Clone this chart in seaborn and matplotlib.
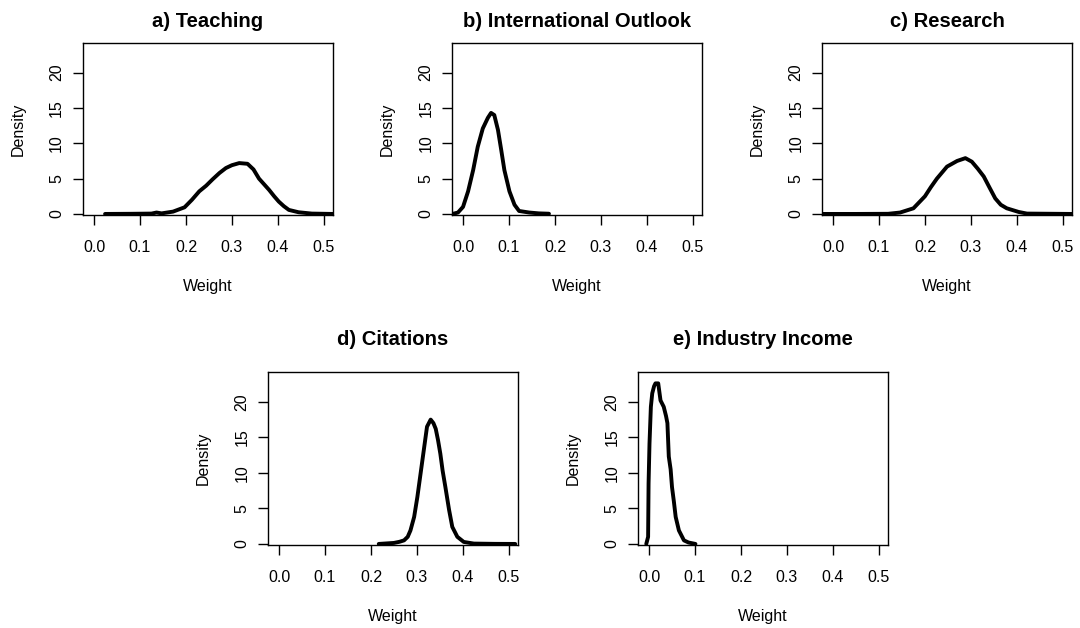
import numpy as np
import pandas as pd
import matplotlib
matplotlib.use("Agg")
import matplotlib.pyplot as plt
import seaborn as sns

sns.set_style("ticks")
plt.rcParams["font.family"] = ["Liberation Sans", "DejaVu Sans"]

titles = ["a) Teaching", "b) International Outlook", "c) Research",
          "d) Citations", "e) Industry Income"]
x_ticks = [0.0, 0.1, 0.2, 0.3, 0.4, 0.5]
x_tick_labels = ["0.0", "0.1", "0.2", "0.3", "0.4", "0.5"]
y_ticks = [0, 5, 10, 15, 20]
y_tick_labels = ["0", "5", "10", "15", "20"]

teaching_x = [0.024, 0.08, 0.125, 0.136, 0.147, 0.172, 0.197, 0.213, 0.229, 0.244, 0.258,
              0.273, 0.287, 0.30, 0.316, 0.334, 0.347, 0.359, 0.37, 0.381, 0.392, 0.402,
              0.413, 0.424, 0.445, 0.474, 0.52]
teaching_y = [0.0, 0.02, 0.05, 0.2, 0.08, 0.33, 0.94, 2.0, 3.2, 4.0, 4.9,
              5.8, 6.5, 6.9, 7.2, 7.1, 6.3, 5.0, 4.2, 3.4, 2.5, 1.75,
              1.1, 0.57, 0.24, 0.05, 0.0]

intl_x = [-0.023, -0.011, 0.0, 0.011, 0.022, 0.032, 0.043, 0.054, 0.061, 0.068, 0.076,
          0.083, 0.09, 0.101, 0.112, 0.122, 0.144, 0.165, 0.187]
intl_y = [0.0, 0.2, 1.0, 3.2, 6.2, 9.5, 12.1, 13.6, 14.3, 14.0, 11.9,
          9.1, 6.2, 3.2, 1.3, 0.42, 0.2, 0.08, 0.03]

research_x = [-0.024, 0.05, 0.12, 0.146, 0.175, 0.20, 0.213, 0.226, 0.248, 0.27, 0.288,
              0.302, 0.315, 0.328, 0.34, 0.353, 0.365, 0.378, 0.404, 0.422, 0.52]
research_y = [0.0, 0.0, 0.02, 0.2, 0.8, 2.5, 3.8, 5.0, 6.7, 7.5, 7.9,
              7.4, 6.4, 5.3, 3.8, 2.2, 1.3, 0.8, 0.28, 0.05, 0.0]

citations_x = [0.217, 0.25, 0.262, 0.272, 0.28, 0.286, 0.294, 0.301, 0.308, 0.315, 0.322,
               0.33, 0.336, 0.341, 0.346, 0.351, 0.356, 0.362, 0.37, 0.377, 0.388,
               0.402, 0.424, 0.47, 0.514]
citations_y = [0.0, 0.14, 0.3, 0.5, 1.0, 1.9, 3.8, 6.6, 9.9, 13.2, 16.5,
               17.5, 17.0, 16.2, 14.6, 12.7, 10.3, 8.0, 4.8, 2.4, 1.0,
               0.28, 0.05, 0.01, 0.0]

industry_x = [-0.006, -0.002, -0.001, 0.001, 0.004, 0.007, 0.011, 0.014, 0.02, 0.025,
              0.032, 0.037, 0.04, 0.043, 0.047, 0.05, 0.054, 0.058, 0.065, 0.076,
              0.086, 0.101]
industry_y = [0.0, 1.0, 8.5, 14.1, 19.3, 21.2, 22.2, 22.6, 22.6, 20.2,
              19.3, 18.0, 17.0, 12.3, 10.5, 8.0, 6.0, 3.8, 1.9, 0.5,
              0.2, 0.0]

curves = [(teaching_x, teaching_y), (intl_x, intl_y), (research_x, research_y),
          (citations_x, citations_y), (industry_x, industry_y)]

W, H = 1080, 628
fig = plt.figure(figsize=(W / 100, H / 100), dpi=100)

# axes boxes in pixel coords (left, top, right, bottom)
boxes = [(83, 43, 333, 215), (452, 43, 702, 215), (822, 43, 1072, 215),
         (268, 372, 518, 545), (638, 372, 888, 545)]
title_pads = [11.5, 11.5, 11.5, 19.5, 19.5]

for (l, t, r, b), title, (cx, cy), tpad in zip(boxes, titles, curves, title_pads):
    ax = fig.add_axes([l / W, 1 - b / H, (r - l) / W, (b - t) / H])
    df = pd.DataFrame({"Weight": cx, "Density": cy})
    sns.lineplot(data=df, x="Weight", y="Density", ax=ax, color="black",
                 lw=2.8, sort=False, estimator=None)
    ax.set_xlim(-0.024, 0.52)
    ax.set_ylim(-0.15, 24.2)
    ax.set_xticks(x_ticks)
    ax.set_xticklabels(x_tick_labels)
    ax.set_yticks(y_ticks)
    ax.set_yticklabels(y_tick_labels, rotation=90, va="center")
    ax.tick_params(axis="both", direction="out", length=7, width=1.0,
                   labelsize=11.5, color="black", labelcolor="black")
    ax.tick_params(axis="x", pad=11)
    ax.tick_params(axis="y", pad=6.5)
    for s in ax.spines.values():
        s.set_visible(True)
        s.set_color("black")
        s.set_linewidth(1.0)
    ax.set_xlabel("Weight", fontsize=11.5, color="black")
    ax.set_ylabel("Density", fontsize=11.5, color="black")
    ax.xaxis.set_label_coords(0.5, -0.372)
    ax.yaxis.set_label_coords(-0.228, 0.5)
    ax.set_title(title, fontsize=14.6, fontweight="bold", pad=tpad, color="black")
    ax.grid(False)

fig.savefig("out.png", dpi=100, facecolor="white")
